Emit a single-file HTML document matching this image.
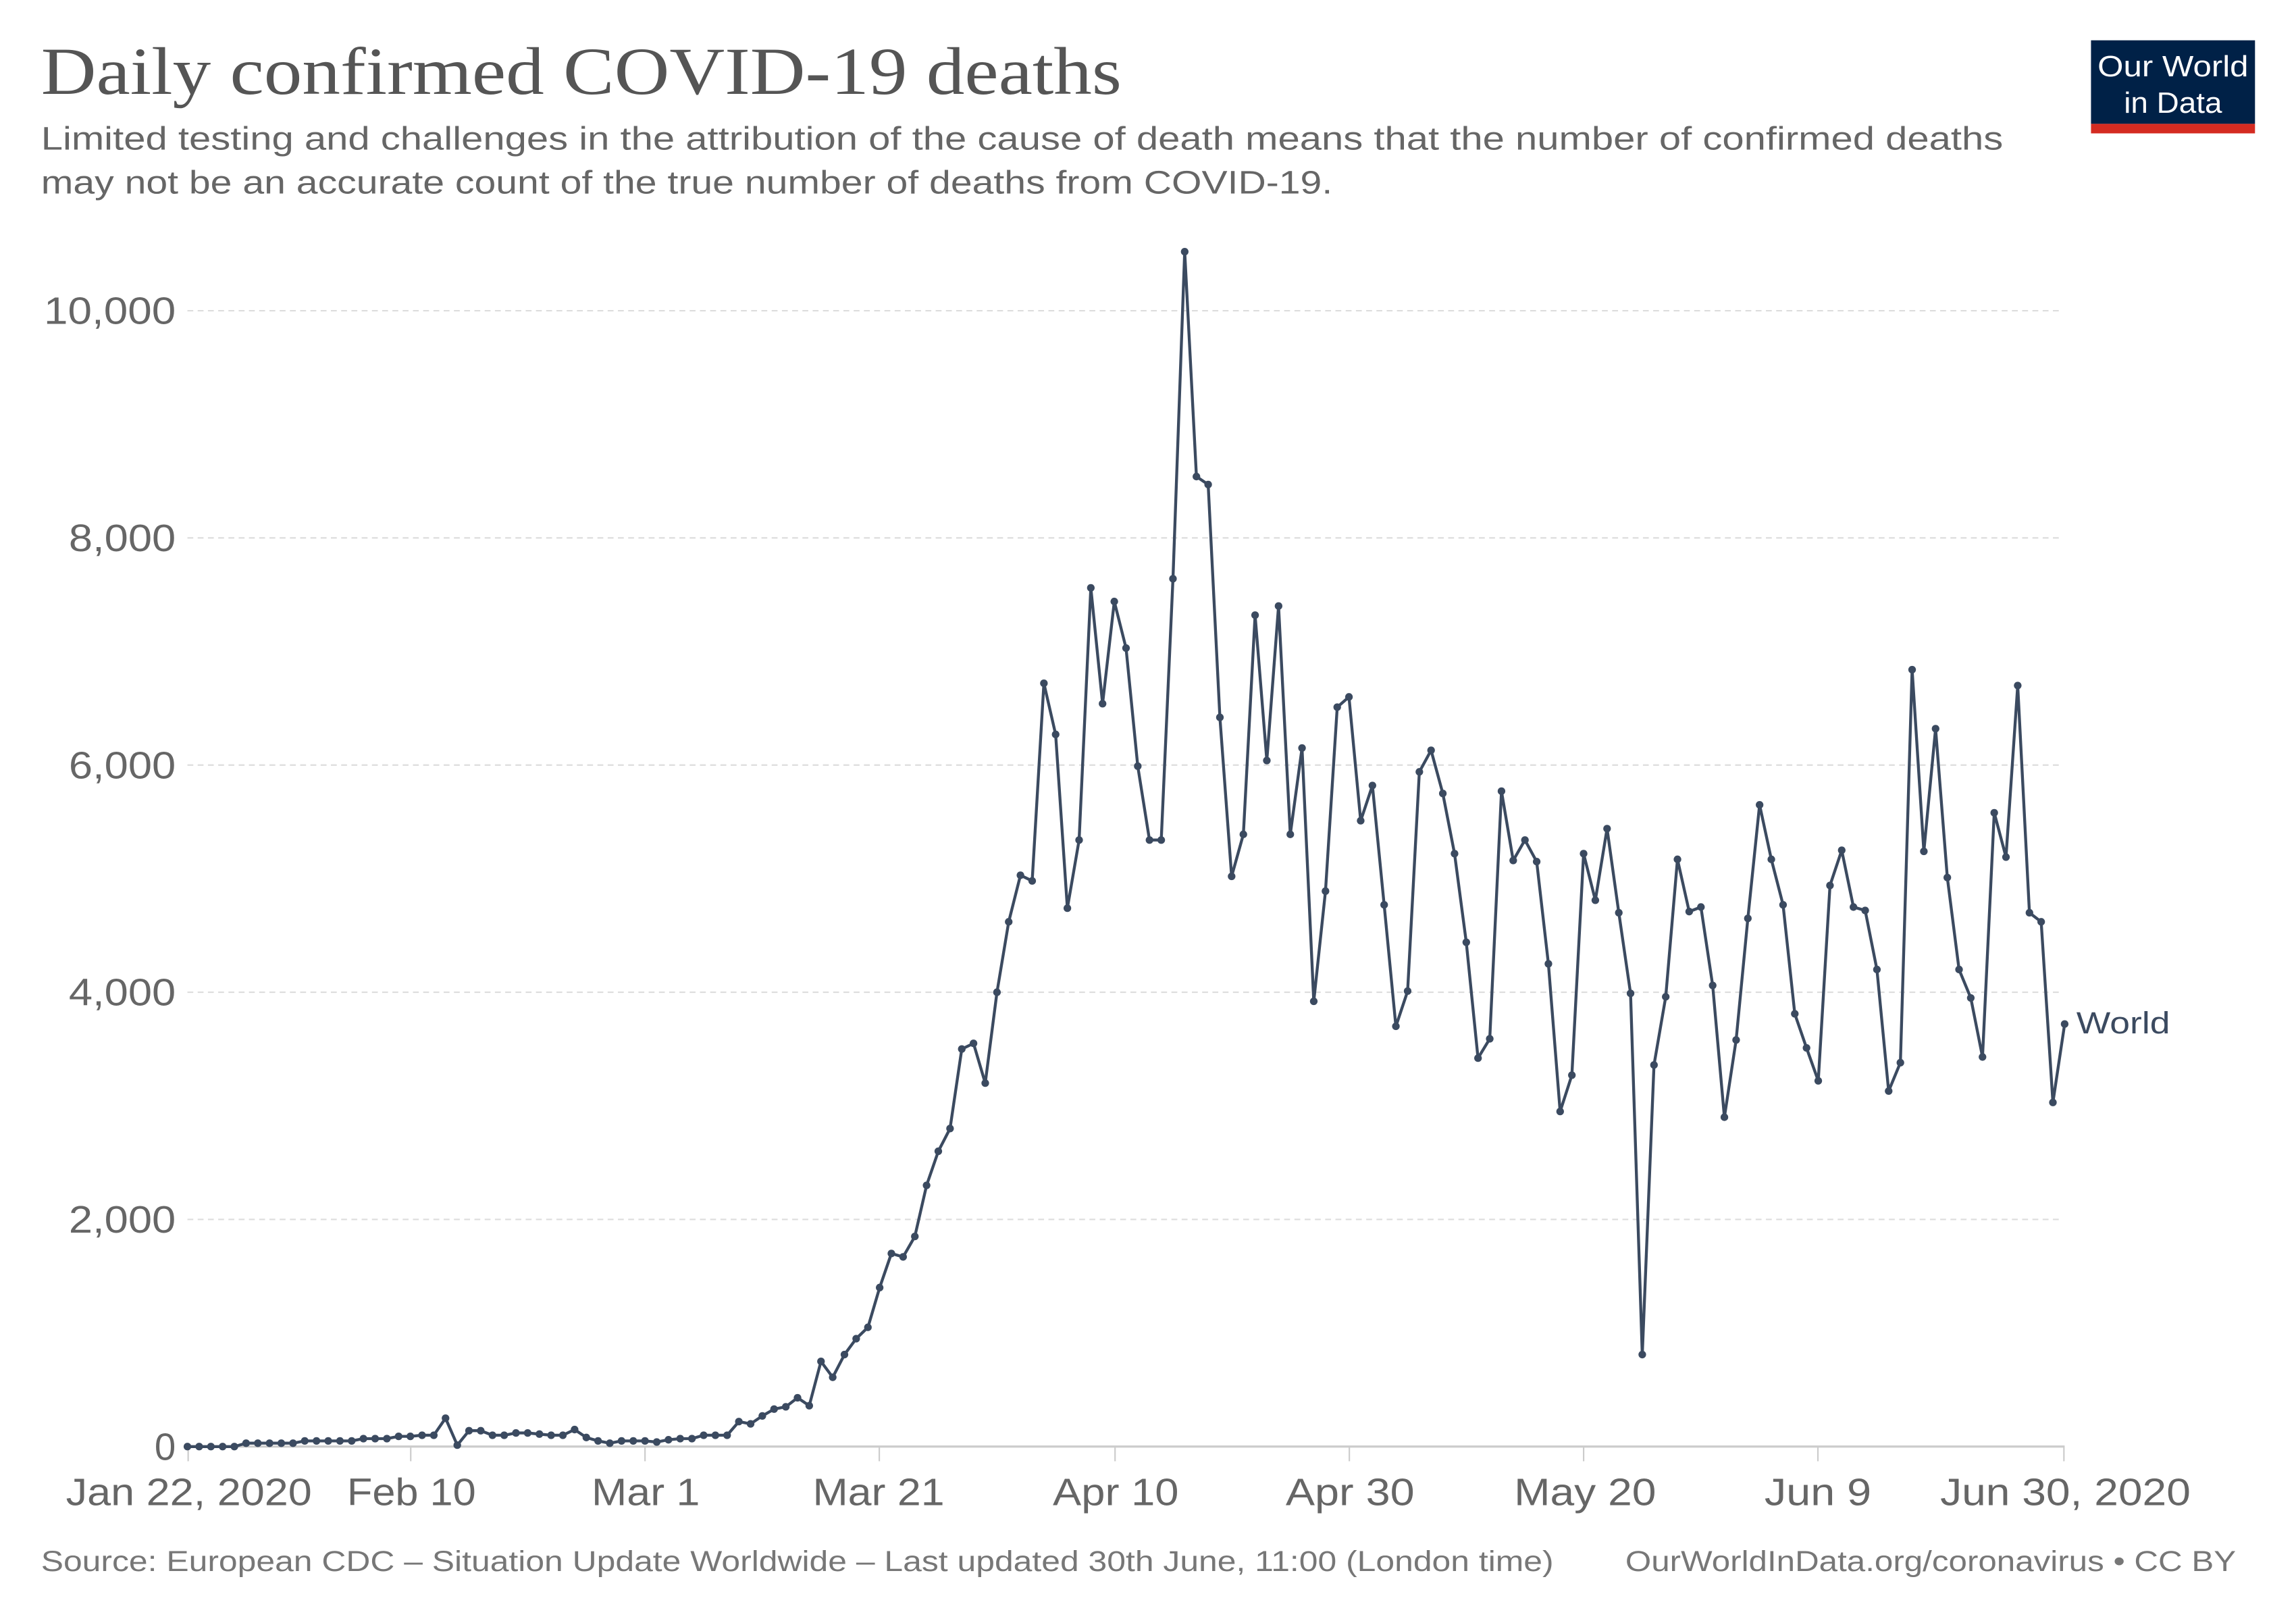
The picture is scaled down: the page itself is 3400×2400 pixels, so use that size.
<!DOCTYPE html>
<html><head><meta charset="utf-8"><style>
html,body{margin:0;padding:0;background:#fff;}
svg{display:block;}
</style></head><body>
<svg id="s" width="3400" height="2400" viewBox="0 0 1568 1106" preserveAspectRatio="none" xmlns="http://www.w3.org/2000/svg">
<rect width="1568" height="1106" fill="#fff"/>
<text x="28" y="64" font-family="'Liberation Serif',serif" font-size="46" fill="#555" textLength="738" lengthAdjust="spacingAndGlyphs">Daily confirmed COVID-19 deaths</text>
<text x="28" y="102" font-family="'Liberation Sans',sans-serif" font-size="22" fill="#666" textLength="1340" lengthAdjust="spacingAndGlyphs">Limited testing and challenges in the attribution of the cause of death means that the number of confirmed deaths</text>
<text x="28" y="132" font-family="'Liberation Sans',sans-serif" font-size="22" fill="#666" textLength="882" lengthAdjust="spacingAndGlyphs">may not be an accurate count of the true number of deaths from COVID-19.</text>
<rect x="1428" y="27.5" width="112" height="57" fill="#002147"/>
<rect x="1428" y="84.5" width="112" height="6.5" fill="#d42b21"/>
<text x="1484" y="52" text-anchor="middle" font-family="'Liberation Sans',sans-serif" font-size="20" fill="#fff" textLength="103" lengthAdjust="spacingAndGlyphs">Our World</text>
<text x="1484" y="77" text-anchor="middle" font-family="'Liberation Sans',sans-serif" font-size="20" fill="#fff" textLength="67" lengthAdjust="spacingAndGlyphs">in Data</text>
<g stroke="#ddd" stroke-width="1" stroke-dasharray="4,3">
<line x1="128" x2="1408" y1="212" y2="212"/>
<line x1="128" x2="1408" y1="367" y2="367"/>
<line x1="128" x2="1408" y1="522" y2="522"/>
<line x1="128" x2="1408" y1="677" y2="677"/>
<line x1="128" x2="1408" y1="832" y2="832"/>
</g>
<line x1="128" x2="1410" y1="987" y2="987" stroke="#ccc" stroke-width="1.5"/>
<g font-family="'Liberation Sans',sans-serif" font-size="26" fill="#666" text-anchor="end">
<text x="120" y="221" textLength="90" lengthAdjust="spacingAndGlyphs">10,000</text>
<text x="120" y="376" textLength="73" lengthAdjust="spacingAndGlyphs">8,000</text>
<text x="120" y="531" textLength="73" lengthAdjust="spacingAndGlyphs">6,000</text>
<text x="120" y="686" textLength="73" lengthAdjust="spacingAndGlyphs">4,000</text>
<text x="120" y="841" textLength="73" lengthAdjust="spacingAndGlyphs">2,000</text>
<text x="120" y="996">0</text>
</g>
<g stroke="#ccc" stroke-width="1">
<line x1="128.5" x2="128.5" y1="987" y2="997"/>
<line x1="280.5" x2="280.5" y1="987" y2="997"/>
<line x1="440.5" x2="440.5" y1="987" y2="997"/>
<line x1="600.5" x2="600.5" y1="987" y2="997"/>
<line x1="761.5" x2="761.5" y1="987" y2="997"/>
<line x1="921.5" x2="921.5" y1="987" y2="997"/>
<line x1="1081.5" x2="1081.5" y1="987" y2="997"/>
<line x1="1241.5" x2="1241.5" y1="987" y2="997"/>
<line x1="1409.5" x2="1409.5" y1="987" y2="997"/>
</g>
<g font-family="'Liberation Sans',sans-serif" font-size="26" fill="#666">
<text x="45" y="1027" textLength="168" lengthAdjust="spacingAndGlyphs">Jan 22, 2020</text>
<text x="237" y="1027" textLength="88" lengthAdjust="spacingAndGlyphs">Feb 10</text>
<text x="404" y="1027" textLength="74" lengthAdjust="spacingAndGlyphs">Mar 1</text>
<text x="555" y="1027" textLength="90" lengthAdjust="spacingAndGlyphs">Mar 21</text>
<text x="719" y="1027" textLength="86" lengthAdjust="spacingAndGlyphs">Apr 10</text>
<text x="878" y="1027" textLength="88" lengthAdjust="spacingAndGlyphs">Apr 30</text>
<text x="1034" y="1027" textLength="97" lengthAdjust="spacingAndGlyphs">May 20</text>
<text x="1205" y="1027" textLength="73" lengthAdjust="spacingAndGlyphs">Jun 9</text>
<text x="1325" y="1027" textLength="171" lengthAdjust="spacingAndGlyphs">Jun 30, 2020</text>
</g>
<text x="28" y="1072" font-family="'Liberation Sans',sans-serif" font-size="19.5" fill="#777" textLength="1033" lengthAdjust="spacingAndGlyphs">Source: European CDC – Situation Update Worldwide – Last updated 30th June, 11:00 (London time)</text>
<text x="1110" y="1072" font-family="'Liberation Sans',sans-serif" font-size="19.5" fill="#777" textLength="417" lengthAdjust="spacingAndGlyphs">OurWorldInData.org/coronavirus • CC BY</text>
<text x="1418" y="705" font-family="'Liberation Sans',sans-serif" font-size="21" fill="#3b4a60" textLength="64" lengthAdjust="spacingAndGlyphs">World</text>
<g id="series"></g>
</svg>
<script>
var d=[0,0,0,0,0,30,30,30,30,30,50,50,50,50,50,70,70,70,90,90,100,100,250,13,140,140,100,100,120,120,110,100,100,150,80,50,30,50,50,50,40,60,70,70,100,100,100,
220,200,270,330,350,430,360,750,610,810,950,1050,
1400,1700,1670,1850,2300,2600,2800,3500,3550,3200,4000,4620,5030,4980,
6720,6270,4740,5340,
7560,6540,7440,7030,5990,5340,5340,7640,
10520,8540,8470,6420,
5020,5390,7320,6040,7400,5390,6150,
3920,4890,6510,6600,5510,5820,4770,
3700,4010,5940,6130,5750,5220,4440,
3420,3590,5770,5160,5340,5150,4250,
2950,3270,5220,4810,5440,4700,3990,
810,3360,3960,5170,4710,4750,4060,
2900,3580,4650,5650,5170,4770,3810,3510,
3220,4940,5250,4750,4720,4200,
3130,3380,6840,5240,6320,5010,4200,3950,
3430,5580,5190,6700,4700,4620,3030,3720];
var ns="http://www.w3.org/2000/svg",g=document.getElementById("series"),pts=[];
for(var i=0;i<d.length;i++){var x=128+i*1282/160,y=987-d[i]*0.0775;pts.push(x.toFixed(2)+","+y.toFixed(2));
var c=document.createElementNS(ns,"circle");c.setAttribute("cx",x);c.setAttribute("cy",y);c.setAttribute("r","2.6");c.setAttribute("fill","#3b4a60");g.appendChild(c);}
var p=document.createElementNS(ns,"polyline");p.setAttribute("points",pts.join(" "));p.setAttribute("fill","none");p.setAttribute("stroke","#3b4a60");p.setAttribute("stroke-width","2");p.setAttribute("stroke-linejoin","round");g.insertBefore(p,g.firstChild);
</script>
</body></html>
